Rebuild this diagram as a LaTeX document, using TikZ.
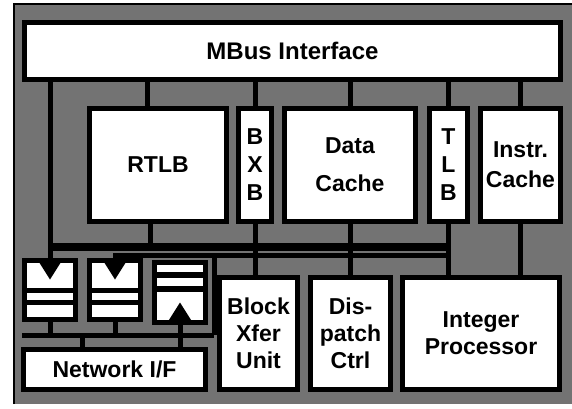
\documentclass[tikz,border=0pt]{standalone}
\usepackage{fontspec}
\setmainfont{Liberation Sans}
\usetikzlibrary{arrows.meta}
\tikzset{
  blk/.style={draw, line width=5pt, fill=white, inner sep=0pt, align=center,
    font=\fontsize{23}{27}\selectfont\bfseries},
  bus/.style={line width=5pt},
  bar/.style={line width=5pt},
  tipin/.style={-{Triangle[width=24pt,length=19pt,line width=0pt]}}
}
\begin{document}
\begin{tikzpicture}[x=1pt,y=-1pt]
\useasboundingbox (0,0) rectangle (572,408);
% die area
\fill[black!55] (14,4) rectangle (572,404);
\draw[line width=2.5pt] (14,404) -- (14,4) -- (572,4);

% top row
\node[blk, minimum width=536pt, minimum height=57pt, font=\fontsize{24}{28}\selectfont\bfseries] (mbus) at (292.5,51) {MBus Interface};
\node[blk, minimum width=137pt, minimum height=113pt] (rtlb) at (158,165) {RTLB};
\node[blk, minimum width=33pt, minimum height=113pt] (bxb) at (255,165) {B\\[1pt]X\\[1pt]B};
\node[blk, minimum width=131pt, minimum height=113pt] (dcache) at (350,165) {Data\\[11pt]Cache};
\node[blk, minimum width=38pt, minimum height=113pt] (tlb) at (448.5,165) {T\\[1pt]L\\[1pt]B};
\node[blk, minimum width=80pt, minimum height=113pt] (icache) at (520.5,165) {Instr.\\[3pt]Cache};

% queues
\node[blk, minimum width=51pt, minimum height=59pt] (fifo1) at (50,290) {};
\node[blk, minimum width=51pt, minimum height=59pt] (fifo2) at (115,290) {};
\node[blk, minimum width=51pt, minimum height=60pt] (fifo3) at (180,292.5) {};

% bottom row
\node[blk, minimum width=182pt, minimum height=40pt] (netif) at (114.5,369.5) {Network I/F};
\node[blk, minimum width=78pt, minimum height=112pt] (bxu) at (258.5,333.5) {Block\\Xfer\\Unit};
\node[blk, minimum width=80pt, minimum height=112pt] (disp) at (350.5,333.5) {Dis-\\patch\\Ctrl};
\node[blk, minimum width=157pt, minimum height=112pt] (intp) at (481,333.5) {Integer\\Processor};

% queue slots
\foreach \f in {fifo1,fifo2}{
  \draw[bar] ([yshift=-32.5pt]\f.north west) -- ([yshift=-32.5pt]\f.north east);
  \draw[bar] ([yshift=-44.5pt]\f.north west) -- ([yshift=-44.5pt]\f.north east);
}
\draw[bar, line width=6pt] ([yshift=-14.5pt]fifo3.north west) -- ([yshift=-14.5pt]fifo3.north east);
\draw[bar, line width=6pt] ([yshift=-28.5pt]fifo3.north west) -- ([yshift=-28.5pt]fifo3.north east);

% MBus to top row
\draw[bus] ([xshift=-11pt]rtlb.north) -- ([xshift=-11pt]rtlb.north |- mbus.south);
\foreach \b in {bxb,dcache,tlb,icache}
  \draw[bus] (\b.north) -- (\b.north |- mbus.south);

% internal bus
\coordinate (busW) at (50,247);
\coordinate (busE) at (449,247);
\coordinate (f2in) at (449,255);
\draw[bus, line width=8pt] (busW) -- (busE);
\draw[bus] ([xshift=-8pt]rtlb.south) -- ([xshift=-8pt]rtlb.south |- busW);
\draw[bus] (bxb.south) -- (bxb.south |- bxu.north);
\draw[bus] (dcache.south) -- (dcache.south |- disp.north);
\draw[bus] (tlb.south) -- (tlb.south |- intp.north);
\draw[bus] (icache.south) -- (icache.south |- intp.north);

% queue inputs
\draw[bus, tipin] (mbus.south -| fifo1.north) -- ([yshift=-21.5pt]fifo1.north);
\draw[bus, tipin] (f2in) -| ([yshift=-21.5pt]fifo2.north);
\draw[bus, tipin] (netif.north -| fifo3.south) -- ([yshift=22.5pt]fifo3.south);

% queue outputs
\coordinate (outW) at (22,335);
\coordinate (outE) at (214,335);
\coordinate (outJ) at (82,335);
\draw[bus] (outW) -- (outE);
\draw[bus] (fifo1.south) -- (fifo1.south |- outW);
\draw[bus] (fifo2.south) -- (fifo2.south |- outW);
\draw[bus] (outJ) -- (outJ |- netif.north);
\draw[bus] (f2in -| outE) -- (outE);
\end{tikzpicture}
\end{document}
